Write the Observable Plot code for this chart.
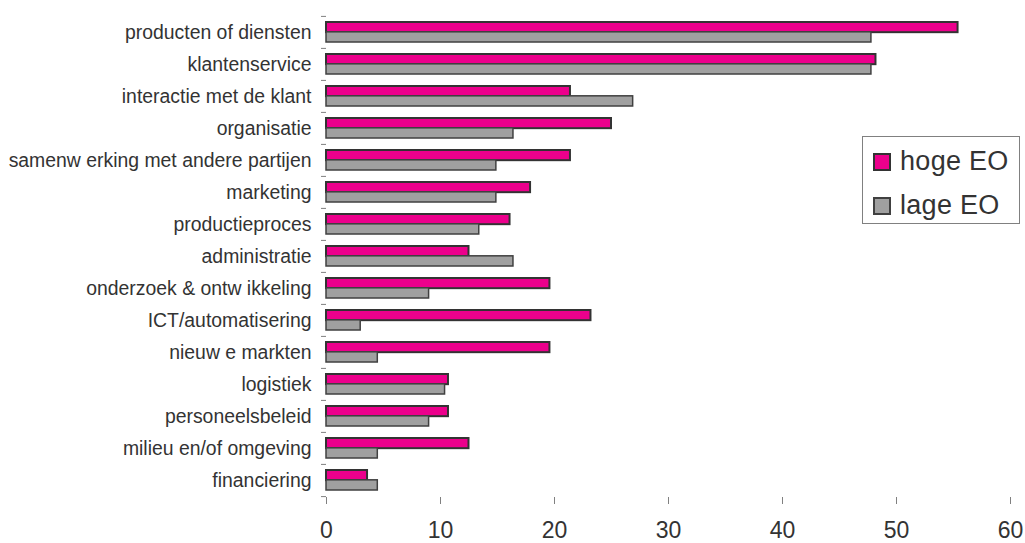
<!DOCTYPE html>
<html>
<head>
<meta charset="utf-8">
<script src="https://cdn.jsdelivr.net/npm/d3@7"></script>
<script src="https://cdn.jsdelivr.net/npm/@observablehq/plot@0.6"></script>
<style>
  html, body { margin: 0; padding: 0; background: #fff; }
  #wrap { position: relative; width: 1025px; height: 543px; font-family: "Liberation Sans", Arial, sans-serif; }
  #legend { position: absolute; left: 862px; top: 136px; width: 156px; height: 86px; border: 1px solid #808080; background: #fff; box-sizing: content-box; }
  .item { position: absolute; left: 10px; display: flex; align-items: center; font-size: 27px; letter-spacing: 0.3px; color: #333; line-height: 1; }
  .sw { width: 14px; height: 14px; border: 2px solid #333; margin-right: 9px; }
</style>
</head>
<body>
<div id="wrap"></div>
<script>
const categories = [
  "producten of diensten", "klantenservice", "interactie met de klant", "organisatie",
  "samenw erking met andere partijen", "marketing", "productieproces", "administratie",
  "onderzoek & ontw ikkeling", "ICT/automatisering", "nieuw e markten", "logistiek",
  "personeelsbeleid", "milieu en/of omgeving", "financiering"
];
const seriesNames = ["hoge EO", "lage EO"];
const hogeEO = [55.4, 48.2, 21.4, 25.0, 21.4, 17.9, 16.1, 12.5, 19.6, 23.2, 19.6, 10.7, 10.7, 12.5, 3.6];
const lageEO = [47.8, 47.8, 26.9, 16.4, 14.9, 14.9, 13.4, 16.4, 9.0, 3.0, 4.5, 10.4, 9.0, 4.5, 4.5];
const xTicks = [0, 10, 20, 30, 40, 50, 60];
const colors = ["#EC008C", "#A0A0A0"];

const hogeData = categories.map((c, i) => ({cat: c, series: seriesNames[0], value: hogeEO[i]}));
const lageData = categories.map((c, i) => ({cat: c, series: seriesNames[1], value: lageEO[i]}));

const W = 1025, H = 543, mT = 14, mB = 46, mL = 326, mR = 15;
const step = (H - mT - mB) / categories.length;
const padInner = 0.39;
const bw = step * (1 - padInner);

const chart = Plot.plot({
  width: W, height: H,
  marginTop: mT, marginBottom: mB, marginLeft: mL, marginRight: mR,
  style: {fontFamily: '"Liberation Sans", Arial, sans-serif', color: "#333", background: "#fff"},
  x: {domain: [0, 60]},
  y: {domain: categories, paddingInner: padInner, paddingOuter: padInner / 2},
  marks: [
    Plot.barX(hogeData, {y: "cat", x: "value", fill: colors[0], stroke: "#333", strokeWidth: 2, insetBottom: bw / 2}),
    Plot.barX(lageData, {y: "cat", x: "value", fill: colors[1], stroke: "#404040", strokeWidth: 1.5, insetTop: bw / 2}),
    Plot.axisX({ticks: xTicks, tickSize: 7, tickPadding: 17, fontSize: 23, stroke: "#808080", fill: "#333", line: true, label: null}),
    Plot.axisY({tickSize: 0, tickPadding: 15, fontSize: 19.4, fill: "#333", stroke: "#808080", line: true, label: null}),
    Plot.axisY({tickSize: 5, tickFormat: () => "", stroke: "#808080", dy: -step / 2, label: null}),
    Plot.axisY({ticks: [categories[categories.length - 1]], tickSize: 5, tickFormat: () => "", stroke: "#808080", dy: step / 2, label: null})
  ]
});

const wrap = document.getElementById("wrap");
wrap.appendChild(chart);

const legend = document.createElement("div");
legend.id = "legend";
seriesNames.forEach((name, i) => {
  const item = document.createElement("div");
  item.className = "item";
  item.style.top = (i === 0 ? 11 : 55) + "px";
  const sw = document.createElement("span");
  sw.className = "sw";
  sw.style.background = colors[i];
  sw.style.borderColor = i === 0 ? "#333" : "#404040";
  const t = document.createElement("span");
  t.textContent = name;
  item.appendChild(sw);
  item.appendChild(t);
  legend.appendChild(item);
});
wrap.appendChild(legend);
</script>
</body>
</html>
